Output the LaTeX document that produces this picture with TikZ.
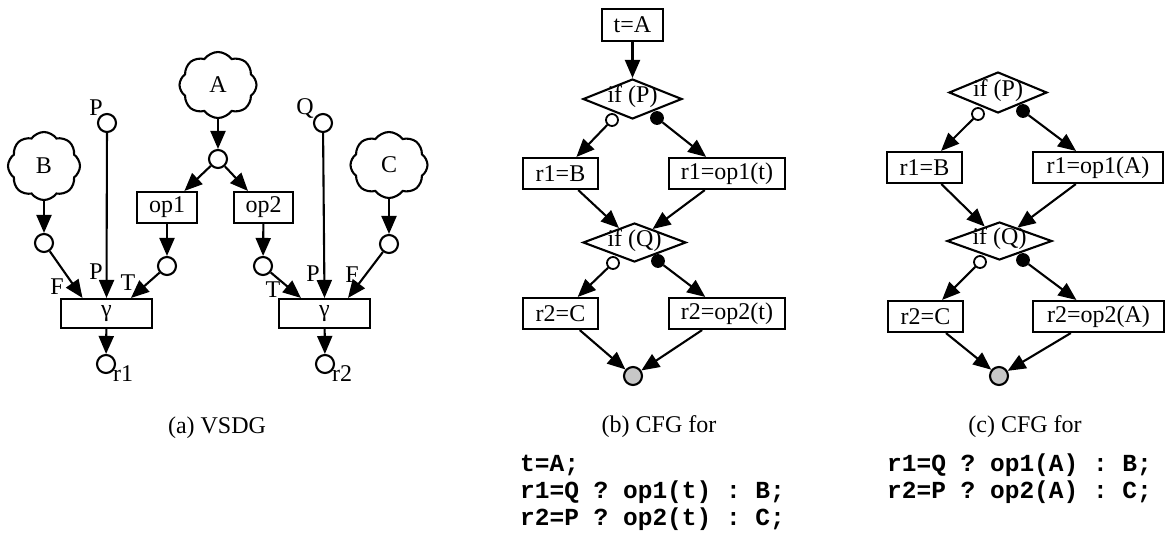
\documentclass[tikz,border=0pt]{standalone}
\usepackage{fontspec}
\setmainfont{Liberation Serif}
\setmonofont{Liberation Mono}
\usetikzlibrary{arrows.meta,shapes.geometric,shapes.symbols,calc}
\begin{document}
\begin{tikzpicture}[x=1pt,y=-1pt,
  every node/.style={font=\fontsize{24}{28}\selectfont},
  ln/.style={line width=2.1pt},
  arr/.style={ln,-{Triangle[length=18pt,width=15pt]}},
  opbox/.style={draw,line width=2.1pt,inner sep=0,minimum height=31pt},
  port/.style={circle,draw,line width=2.1pt,fill=white,inner sep=0,minimum size=18pt},
  tport/.style={circle,draw,line width=1.8pt,fill=white,inner sep=0,minimum size=12pt},
  fport/.style={tport,fill=black},
  joinpt/.style={circle,draw,line width=2.1pt,fill=black!22,inner sep=0,minimum size=18pt},
  test/.style={diamond,draw,line width=2.1pt,inner sep=0},
  blob/.style={cloud,draw,line width=2.1pt,cloud puffs=8,cloud puff arc=110,
               cloud ignores aspect,inner sep=0},
  codeline/.style={anchor=base west,inner sep=0,font=\fontsize{24.5}{27}\selectfont\ttfamily\bfseries},
  captxt/.style={anchor=base,inner sep=0},
  testlbl/.style={label={[yshift=2pt]center:{#1}}},
]
\useasboundingbox (0,0) rectangle (1166,533);

% ---------- (a) VSDG ----------
\node[blob,minimum width=77pt,minimum height=66pt] (A) at (218,85) {A};
\node[blob,minimum width=72pt,minimum height=68pt] (B) at (44,166) {B};
\node[blob,minimum width=77pt,minimum height=66pt] (C) at (389,165) {C};

\node[port] (a0) at (218,159) {};
\node[port] (b0) at (44,243) {};
\node[port] (c0) at (389,244) {};
\node[port] (pP) at (107,123) {};
\node[port] (pQ) at (323,123) {};
\node[inner sep=0] (lP) at (96,108) {P};
\node[inner sep=0] (lQ) at (305,108) {Q};

\node[opbox,minimum width=60pt] (op1) at (167,207.5) {op1};
\node[opbox,minimum width=59pt] (op2) at (263.5,207.5) {op2};
\node[port] (o1) at (167,266) {};
\node[port] (o2) at (263,266) {};

\node[draw,line width=2.1pt,inner sep=0,minimum width=91pt,minimum height=29pt] (gL) at (106.5,313.5) {γ};
\node[draw,line width=2.1pt,inner sep=0,minimum width=91pt,minimum height=29pt] (gR) at (324.5,313.5) {γ};
\coordinate (gLF) at ($(gL.north)+(-24,0)$);
\coordinate (gLT) at ($(gL.north)+(24.5,0)$);
\coordinate (gRT) at ($(gR.north)+(-23.5,0)$);
\coordinate (gRF) at ($(gR.north)+(23.5,0)$);

\node[port] (r1) at (106,364) {};
\node[port] (r2) at (325,364) {};
\node[anchor=base west,inner sep=0] (lr1) at (113,381) {r1};
\node[anchor=base west,inner sep=0] (lr2) at (332,381) {r2};

\draw[arr] (A) -- (a0);
\draw[arr] (a0) -- (op1);
\draw[arr] (a0) -- (op2);
\draw[arr] (op1) -- (o1);
\draw[arr] (op2) -- (o2);
\draw[arr] (B) -- (b0);
\draw[arr] (C) -- (c0);

\draw[arr] (b0) -- (gLF);
\draw[arr] (pP) -- (gL.north);
\draw[arr] (o1) -- (gLT);
\draw[arr] (o2) -- (gRT);
\draw[arr] (pQ) -- (gR.north);
\draw[arr] (c0) -- (gRF);
\draw[arr] (gL) -- (r1);
\draw[arr] (gR) -- (r2);

\node[inner sep=0] (lF1) at (57,287) {F};
\node[inner sep=0] (lP1) at (96,272) {P};
\node[inner sep=0] (lT1) at (128,283) {T};
\node[inner sep=0] (lT2) at (273,290) {T};
\node[inner sep=0] (lP2) at (313,274) {P};
\node[inner sep=0] (lF2) at (352,275) {F};

\node[captxt] (capa) at (217,433) {(a) VSDG};

% ---------- (b) CFG with a temporary ----------
\node[opbox,minimum width=61pt,minimum height=32pt] (tA) at (632.5,25) {t=A};
\node[test,minimum width=99pt,minimum height=40pt,testlbl={if (P)}] (ifP) at (632.5,99) {};
\node[tport] (ifPt) at (612,120) {};
\node[fport] (ifPf) at (657,118) {};
\node[opbox,minimum width=75pt] (rB) at (560.5,173.5) {r1=B};
\node[opbox,minimum width=116pt] (rOp1) at (727,173.5) {r1=op1(t)};
\node[test,minimum width=103pt,minimum height=39pt,testlbl={if (Q)}] (ifQ) at (634.5,242.5) {};
\node[tport] (ifQt) at (613,263) {};
\node[fport] (ifQf) at (658,261) {};
\node[opbox,minimum width=75pt] (rC) at (560.5,313.5) {r2=C};
\node[opbox,minimum width=116pt] (rOp2) at (727,313.5) {r2=op2(t)};
\node[joinpt] (jb) at (633,376) {};

\draw[arr] (tA) -- (ifP);
\draw[arr] (ifPt) -- (rB);
\draw[arr] (ifPf) -- (rOp1);
\draw[arr] (rB) -- (ifQ);
\draw[arr] (rOp1) -- (ifQ);
\draw[arr] (ifQt) -- (rC);
\draw[arr] (ifQf) -- (rOp2);
\draw[arr] (rC) -- (jb);
\draw[arr] (rOp2) -- (jb);

\node[captxt] (capb) at (659,432) {(b) CFG for};
\node[codeline] (cb1) at (520,471) {t=A;};
\node[codeline] (cb2) at (520,498) {r1=Q ? op1(t) : B;};
\node[codeline] (cb3) at (520,525) {r2=P ? op2(t) : C;};

% ---------- (c) CFG without a temporary ----------
\node[test,minimum width=98pt,minimum height=41pt,testlbl={if (P)}] (ifP2) at (998,92.5) {};
\node[tport] (ifP2t) at (978,114) {};
\node[fport] (ifP2f) at (1023,111) {};
\node[opbox,minimum width=75pt] (rB2) at (924.5,167.5) {r1=B};
\node[opbox,minimum width=130pt] (rA1) at (1098,167.5) {r1=op1(A)};
\node[test,minimum width=105pt,minimum height=38pt,testlbl={if (Q)}] (ifQ2) at (999.5,241) {};
\node[tport] (ifQ2t) at (980,262) {};
\node[fport] (ifQ2f) at (1023,260) {};
\node[opbox,minimum width=75pt] (rC2) at (925.5,316.5) {r2=C};
\node[opbox,minimum width=131pt] (rA2) at (1098.5,316.5) {r2=op2(A)};
\node[joinpt] (jc) at (999,376) {};

\draw[arr] (ifP2t) -- (rB2);
\draw[arr] (ifP2f) -- (rA1);
\draw[arr] (rB2) -- (ifQ2);
\draw[arr] (rA1) -- (ifQ2);
\draw[arr] (ifQ2t) -- (rC2);
\draw[arr] (ifQ2f) -- (rA2);
\draw[arr] (rC2) -- (jc);
\draw[arr] (rA2) -- (jc);

\node[captxt] (capc) at (1025,432) {(c) CFG for};
\node[codeline] (cc1) at (887,471) {r1=Q ? op1(A) : B;};
\node[codeline] (cc2) at (887,498) {r2=P ? op2(A) : C;};
\end{tikzpicture}
\end{document}
